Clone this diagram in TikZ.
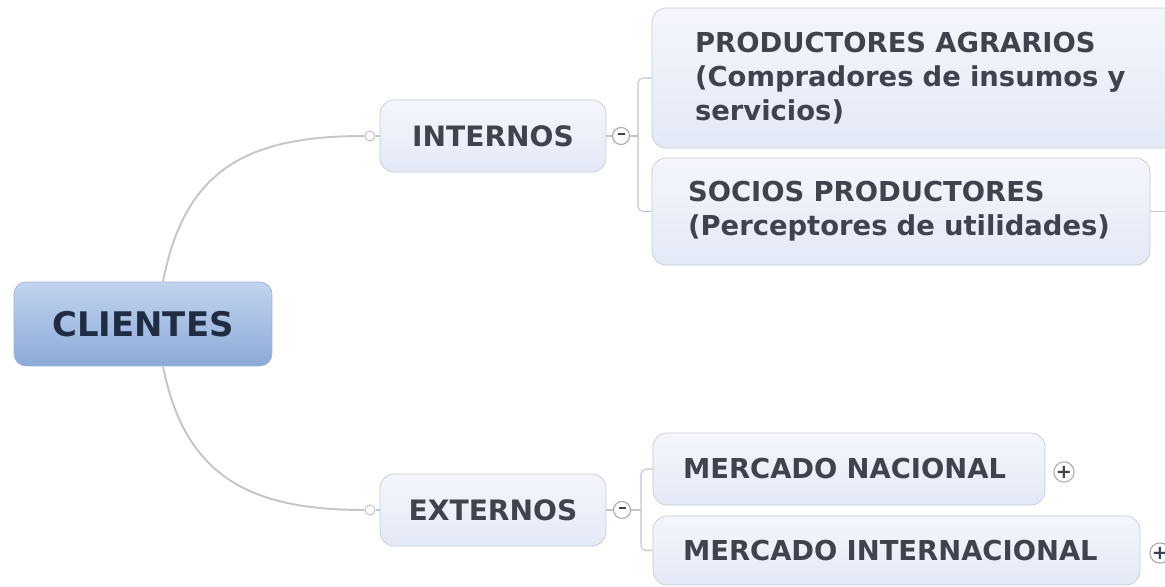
\documentclass[tikz,border=0pt]{standalone}
\usepackage{fontspec}
\setmainfont{DejaVu Sans}
\definecolor{roottop}{HTML}{C2D4EF}
\definecolor{rootbot}{HTML}{8CAAD8}
\definecolor{rootline}{HTML}{A0B4D2}
\definecolor{roottext}{HTML}{1F2C44}
\definecolor{boxtop}{HTML}{F4F6FC}
\definecolor{boxbot}{HTML}{E4E9F6}
\definecolor{boxline}{HTML}{C5CBD8}
\definecolor{boxtext}{HTML}{3E434E}
\definecolor{linegray}{HTML}{C6C6C6}
\definecolor{knobline}{HTML}{A8A8A8}
\begin{document}
\begin{tikzpicture}[x=0.02cm, y=0.02cm]
  \tikzstyle{root}=[draw=rootline, top color=roottop, bottom color=rootbot, rounded corners=0.24cm, font=\fontsize{19.3}{23}\selectfont\bfseries, text=roottext, minimum width=5.16cm, minimum height=1.68cm]
  \tikzstyle{topic}=[draw=boxline, top color=boxtop, bottom color=boxbot, rounded corners=0.28cm, font=\fontsize{16}{19}\selectfont\bfseries, text=boxtext, minimum width=4.52cm, minimum height=1.44cm]
  \tikzstyle{leaf}=[topic, align=left, font=\fontsize{15.6}{19.3}\selectfont\bfseries]
  \tikzstyle{branch}=[draw=linegray, line width=1.1pt]
  \tikzstyle{tie}=[draw=linegray, line width=0.6pt, rounded corners=0.1cm]
  \tikzstyle{knob}=[circle, draw=knobline, line width=0.6pt, fill=white, inner sep=0pt, minimum size=0.34cm, font=\fontsize{11}{11}\selectfont\bfseries, text=boxtext]
  \tikzstyle{dot}=[circle, draw=linegray, line width=0.6pt, fill=white, inner sep=0pt, minimum size=0.2cm]

  \fill[white] (0,0) rectangle (1165,587);
  \useasboundingbox (0,0) rectangle (1165,587);

  % nodo central
  \node[root] (clientes) at (143,263) {CLIENTES};

  % ramas principales
  \node[topic] (internos) at (493,451) {INTERNOS};
  \node[topic] (externos) at (493,77) {EXTERNOS};
  \node[dot] (inDot) at (370,451) {};
  \node[dot] (exDot) at (370,77) {};
  \node[knob] (inKnob) at (621,451) {\rule[0.08cm]{0.14cm}{1pt}};
  \node[knob] (exKnob) at (622,77) {\rule[0.08cm]{0.14cm}{1pt}};

  \draw[branch] ([xshift=0.4cm]clientes.north) .. controls (185,420) and (250,451) .. (inDot);
  \draw[branch] ([xshift=0.4cm]clientes.south) .. controls (185,110) and (250,77) .. (exDot);
  \draw[tie] (inDot) -- (internos.west);
  \draw[tie] (exDot) -- (externos.west);
  \draw[tie] (internos.east) -- (inKnob);
  \draw[tie] (externos.east) -- (exKnob);

  % hojas de internos
  \node[leaf, text width=9.24cm, inner xsep=0.86cm, minimum height=2.8cm] (prod) at (926,509)
    {PRODUCTORES AGRARIOS\\(Compradores de insumos y\\servicios)};
  \node[leaf, text width=8.52cm, inner xsep=0.72cm, minimum height=2.14cm] (socios) at (901,375.5)
    {SOCIOS PRODUCTORES\\(Perceptores de utilidades)};
  \coordinate (inFork) at (638,451);
  \coordinate (sociosEnd) at (1166,375.5);
  \draw[tie] (inKnob) -- (inFork);
  \draw[tie] (prod.west) -| (inFork) |- (socios.west);
  \draw[tie] (socios.east) -- (sociosEnd);

  % hojas de externos
  \node[leaf, text width=6.64cm, inner xsep=0.6cm] (nacional) at (849,118) {MERCADO NACIONAL};
  \node[leaf, text width=8.54cm, inner xsep=0.6cm, minimum height=1.38cm] (internacional) at (896.5,36.5) {MERCADO INTERNACIONAL};
  \coordinate (exFork) at (641,77);
  \draw[tie] (exKnob) -- (exFork);
  \draw[tie] (nacional.west) -| (exFork) |- (internacional.west);
  \node[knob] (nacKnob) at (1064,115) {+};
  \node[knob] (intKnob) at (1160,34) {+};
\end{tikzpicture}
\end{document}
